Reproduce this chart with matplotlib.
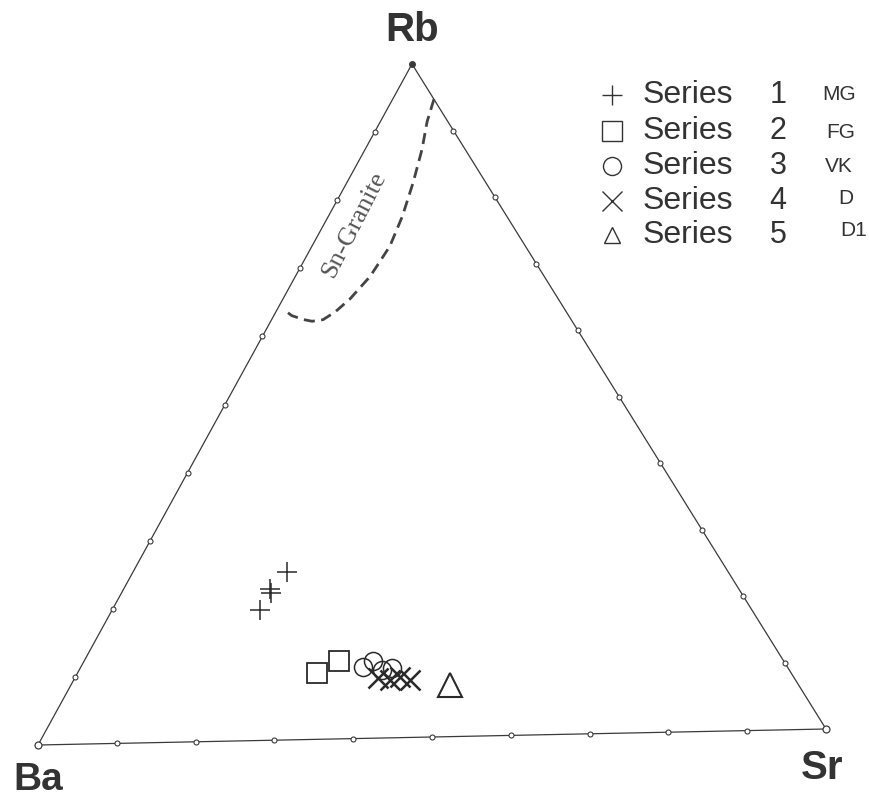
import matplotlib
matplotlib.use("Agg")
import matplotlib.pyplot as plt

# ternary compositions in percent (Ba, Sr, Rb)
series_names = ["Series 1", "Series 2", "Series 3", "Series 4", "Series 5"]
series_codes = ["MG", "FG", "VK", "D", "D1"]
series_markers = ["+", "s", "o", "x", "^"]

ba_1 = [55.3, 58.7, 59.0, 61.6]
sr_1 = [19.7, 18.8, 19.2, 19.0]
rb_1 = [25.0, 22.5, 21.8, 19.4]

ba_2 = [59.4, 55.7]
sr_2 = [30.7, 32.7]
rb_2 = [9.9, 11.6]

ba_3 = [53.2, 51.5, 51.0, 49.6]
sr_3 = [36.2, 37.1, 38.9, 40.0]
rb_3 = [10.6, 11.4, 10.1, 10.4]

ba_4 = [52.2, 50.8, 49.3, 48.3]
sr_4 = [38.9, 40.6, 41.7, 43.2]
rb_4 = [8.9, 8.6, 9.0, 8.5]

ba_5 = [43.7]
sr_5 = [48.6]
rb_5 = [7.7]

# Sn-Granite field boundary
field_ba = [0.0, 2.6, 5.4, 9.1, 13.1, 17.0, 21.8, 26.1, 29.0, 31.1, 32.6, 33.6, 34.7, 35.3]
field_sr = [5.3, 6.0, 7.3, 8.5, 9.5, 10.0, 9.6, 8.6, 7.6, 6.6, 5.3, 4.0, 2.3, 0.7]
field_rb = [94.7, 91.4, 87.3, 82.4, 77.4, 73.0, 68.6, 65.3, 63.4, 62.3, 62.1, 62.4, 63.0, 64.0]

# corner positions of the (scanned, slightly skewed) triangle, in figure pixels
BA = (38, 745)
SR = (826, 729)
RB = (412, 64)

INK = "#3a3a3a"


def tern(ba, sr, rb):
    xs, ys = [], []
    for a, b, c in zip(ba, sr, rb):
        t = a + b + c
        xs.append((a * BA[0] + b * SR[0] + c * RB[0]) / t)
        ys.append((a * BA[1] + b * SR[1] + c * RB[1]) / t)
    return xs, ys


fig = plt.figure(figsize=(8.69, 8.02), dpi=100)
ax = fig.add_axes([0, 0, 1, 1])
ax.set_xlim(0, 869)
ax.set_ylim(802, 0)
ax.axis("off")

# triangle frame
fx, fy = tern([100, 0, 0, 100], [0, 100, 0, 0], [0, 0, 100, 0])
ax.plot(fx, fy, color=INK, lw=0.9)

# 10 % tick circles along the sides
steps = [k * 10 for k in range(1, 10)]
for a, b, c in [
    ([100 - s for s in steps], steps, [0] * 9),
    ([0] * 9, [100 - s for s in steps], steps),
    (steps, [0] * 9, [100 - s for s in steps]),
]:
    tx, ty = tern(a, b, c)
    ax.plot(tx, ty, "o", ms=3.6, mfc="white", mec=INK, mew=0.8, ls="none")

cx, cy = tern([100, 0], [0, 100], [0, 0])
ax.plot(cx, cy, "o", ms=5, mfc="white", mec=INK, mew=0.9, ls="none")
rx, ry = tern([0], [0], [100])
ax.plot(rx, ry, "o", ms=4, color=INK, ls="none")

# corner labels
ax.text(412, 30, "Rb", ha="center", va="center", fontsize=29, fontweight="bold",
        color="#333333", family="Liberation Sans")
ax.text(38, 780, "Ba", ha="center", va="center", fontsize=28, fontweight="bold",
        color="#333333", family="Liberation Sans")
ax.text(822, 768, "Sr", ha="center", va="center", fontsize=29, fontweight="bold",
        color="#333333", family="Liberation Sans")

# Sn-Granite field
gx, gy = tern(field_ba, field_sr, field_rb)
ax.plot(gx, gy, color="#444444", lw=2.0, dashes=(4, 2.3))
ax.text(354, 225, "Sn-Granite", rotation=63, ha="center", va="center",
        fontsize=19, color="#555555", family="Liberation Serif")

# data
data = [(ba_1, sr_1, rb_1), (ba_2, sr_2, rb_2), (ba_3, sr_3, rb_3),
        (ba_4, sr_4, rb_4), (ba_5, sr_5, rb_5)]
sizes = [14, 15, 13, 15, 17]
widths = [1.1, 1.3, 1.1, 1.8, 1.5]
for (a, b, c), m, s, w in zip(data, series_markers, sizes, widths):
    px, py = tern(a, b, c)
    ax.plot(px, py, m, ms=s, mfc="none", mec="#2a2a2a", mew=w, ls="none")

# legend
rows = [95, 131, 166, 201, 235]
code_pos = [(822, 94), (826, 133), (825, 167), (838, 199), (840, 230)]
for i in range(5):
    ax.plot([612], [rows[i]], series_markers[i], ms=[14, 15, 13, 15, 12][i],
            mfc="none", mec="#333333", mew=1.0, ls="none")
    ax.text(643, rows[i], series_names[i].split()[0], ha="left", va="center",
            fontsize=23, color="#333333", family="Liberation Sans")
    ax.text(778, rows[i], series_names[i].split()[1], ha="center", va="center",
            fontsize=22, color="#333333", family="Liberation Sans")
    ax.text(code_pos[i][0], code_pos[i][1], series_codes[i], ha="left", va="center",
            fontsize=15, color="#333333", family="Liberation Sans")

fig.savefig("out.png", dpi=100)
plt.close(fig)
